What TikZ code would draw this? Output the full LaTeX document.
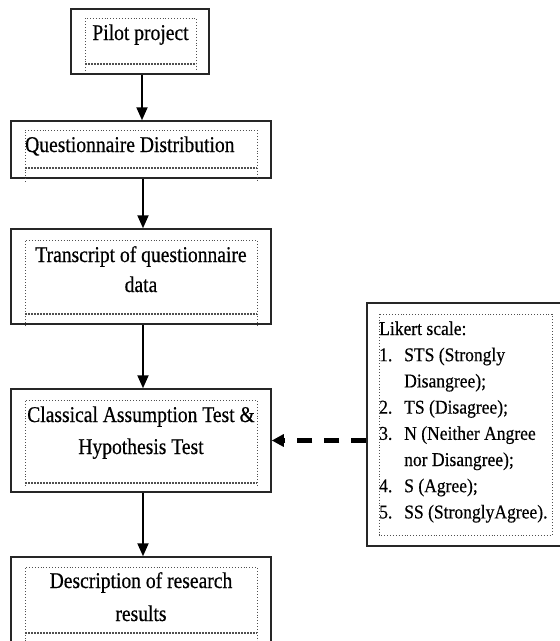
\documentclass[tikz,border=0pt]{standalone}
\usepackage{fontspec}
\usetikzlibrary{arrows.meta}
\newfontfamily\boxfont[FakeStretch=0.87,FakeBold=0.5]{Liberation Serif}
\newfontfamily\likfont[FakeStretch=0.9,FakeBold=0.4]{Liberation Serif}
\definecolor{dotgray}{RGB}{80,80,80}
\tikzset{
  outerbox/.style={draw=black!85, line width=1.5pt, inner sep=0pt, fill=none},
  innerline/.style={draw=dotgray, dotted, line width=0.9pt},
  innerbottom/.style={draw=dotgray, densely dotted, line width=2pt},
  txt/.style={inner sep=0pt, font=\boxfont\fontsize{22.5}{28}\selectfont, anchor=base},
  ltxt/.style={inner sep=0pt, font=\likfont\fontsize{19.5}{24}\selectfont, anchor=base west},
  flowarrow/.style={line width=2pt, -{Triangle[width=11pt,length=13pt]}},
  dasharrow/.style={line width=5pt, dash pattern=on 15pt off 12pt, -{Triangle[width=12pt,length=12pt]}, shorten >=0pt}
}
\begin{document}
\begin{tikzpicture}[x=1pt,y=-1pt]
\useasboundingbox (0,0) rectangle (560,641);
% outer boxes
\node[outerbox, minimum width=138pt, minimum height=65pt] (pilot) at (140,41.5) {};
\node[outerbox, minimum width=260pt, minimum height=57pt] (quest) at (141,149.5) {};
\node[outerbox, minimum width=260pt, minimum height=95pt] (trans) at (141,276.5) {};
\node[outerbox, minimum width=260pt, minimum height=103pt] (cls) at (141,440.5) {};
\node[outerbox, minimum width=260pt, minimum height=100pt] (desc) at (141,607) {};
\node[outerbox, minimum width=200pt, minimum height=243pt] (lik) at (467,424.5) {};
% inner dotted frames
\draw[innerline] (85,71) -- (85,18) -- (196,18) -- (196,71);
\draw[innerbottom] (85,63.5) -- (196,63.5);
\draw[innerline] (25,182) -- (25,130) -- (257,130) -- (257,182);
\draw[innerbottom] (25,168) -- (257,168);
\draw[innerline] (25,326) -- (25,240) -- (257,240) -- (257,326);
\draw[innerbottom] (25,313.5) -- (257,313.5);
\draw[innerline] (25,486) -- (25,400) -- (257,400) -- (257,486);
\draw[innerbottom] (25,483) -- (257,483);
\draw[innerline] (25,650) -- (25,567) -- (257,567) -- (257,650);
\draw[innerbottom] (25,632.5) -- (257,632.5);
\draw[innerline] (379,314) rectangle (552,535);
% texts
\node[txt] (tpilot) at (140.5,40) {Pilot project};
\node[txt, anchor=base west] (tquest) at (25,152) {Questionnaire Distribution};
\node[txt] (ttrans1) at (141,262) {Transcript of questionnaire};
\node[txt] (ttrans2) at (141,292) {data};
\node[txt] (tcls1) at (141,422) {Classical Assumption Test \&};
\node[txt] (tcls2) at (141,454) {Hypothesis Test};
\node[txt] (tdesc1) at (141,588) {Description of research};
\node[txt] (tdesc2) at (141,621) {results};
% Likert text
\node[ltxt] (l0) at (379,335) {Likert scale:};
\node[ltxt] (n1) at (379,361.2) {1.};
\node[ltxt] (l1) at (404,361.2) {STS (Strongly};
\node[ltxt] (l1b) at (404,387.4) {Disangree);};
\node[ltxt] (n2) at (379,413.6) {2.};
\node[ltxt] (l2) at (404,413.6) {TS (Disagree);};
\node[ltxt] (n3) at (379,439.8) {3.};
\node[ltxt] (l3) at (404,439.8) {N (Neither Angree};
\node[ltxt] (l3b) at (404,466) {nor Disangree);};
\node[ltxt] (n4) at (379,492.2) {4.};
\node[ltxt] (l4) at (404,492.2) {S (Agree);};
\node[ltxt] (n5) at (379,518.4) {5.};
\node[ltxt] (l5) at (404,518.4) {SS (StronglyAgree).};
% connectors
\draw[flowarrow] ([xshift=2pt]pilot.south) -- ([xshift=1pt]quest.north);
\draw[flowarrow] ([xshift=2pt]quest.south) -- ([xshift=2pt]trans.north);
\draw[flowarrow] ([xshift=2pt]trans.south) -- ([xshift=2pt]cls.north);
\draw[flowarrow] ([xshift=2pt]cls.south) -- ([xshift=2pt]desc.north);
\draw[dasharrow] (lik.west |- cls.east) -- (cls.east);
\end{tikzpicture}
\end{document}
